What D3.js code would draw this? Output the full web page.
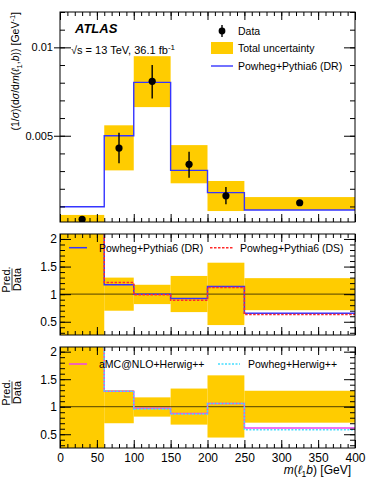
<!DOCTYPE html>
<html>
<head>
<meta charset="utf-8">
<script src="https://cdn.jsdelivr.net/npm/d3@7"></script>
<style>
  body { margin: 0; background: #fff; }
  svg { display: block; font-family: "Liberation Sans", Arial, Helvetica, sans-serif; }
</style>
</head>
<body>
<svg id="chart" width="374" height="484"></svg>
<script>
// bin edges of m(l1,b) in GeV
const binEdges = [0, 60, 100, 150, 200, 250, 400];

// top panel: normalised cross-section [GeV^-1]
const dataValues = [0.00027, 0.0043, 0.00808, 0.00338, 0.0016, 0.00121];
const dataErrHigh = [0.00033, 0.00517, 0.0090, 0.0041, 0.0021, 0.00128];
const dataErrLow = [0.00021, 0.00344, 0.00711, 0.00262, 0.00112, 0.00114];
const totalUncHigh = [0.00052, 0.00559, 0.0095, 0.00447, 0.00244, 0.00153];
const totalUncLow = [0.00002, 0.00304, 0.00662, 0.00231, 0.00074, 0.0008];
const powhegPythiaDR = [0.00098, 0.0050, 0.00802, 0.00304, 0.00178, 0.0008];

// ratio panels: Pred./Data
const ratioUncHigh = [2.6, 1.30, 1.17, 1.33, 1.57, 1.29];
const ratioUncLow = [0.0, 0.70, 0.82, 0.675, 0.44, 0.71];
const ratioDR = [3.6, 1.17, 1.0, 0.92, 1.14, 0.655];
const ratioDS = [3.7, 1.21, 0.99, 0.89, 1.12, 0.63];
const ratioAmcHerwig = [3.5, 1.28, 0.97, 0.875, 1.06, 0.615];
const ratioPowhegHerwig = [3.5, 1.28, 0.96, 0.87, 1.06, 0.58];

const xTicks = [0, 50, 100, 150, 200, 250, 300, 350, 400];
const ratioTicks = [0.5, 1, 1.5, 2];
const topTicks = [0.005, 0.01];

const BAND = '#ffcc00';
const svg = d3.select('#chart');

const left = 60, right = 355;
const x = d3.scaleLinear().domain([0, 400]).range([left, right]);
const yTop = d3.scaleLinear().domain([0.00012, 0.012]).range([222, 12]);
const yR1 = d3.scaleLinear().domain([0.26, 2.09]).range([335, 234]);
const yR2 = d3.scaleLinear().domain([0.25, 2.085]).range([448, 347]);

const bins = binEdges.slice(0, -1).map((lo, i) => ({ lo, hi: binEdges[i + 1], i }));

function clipFor(id, y) {
  svg.append('clipPath').attr('id', id)
    .append('rect')
    .attr('x', left).attr('y', y.range()[1])
    .attr('width', right - left).attr('height', y.range()[0] - y.range()[1]);
  return svg.append('g').attr('clip-path', `url(#${id})`);
}

function drawBand(g, y, hi, lo) {
  g.selectAll('rect.band')
    .data(bins)
    .enter()
    .append('rect')
    .attr('class', 'band')
    .attr('x', d => x(d.lo))
    .attr('width', d => x(d.hi) - x(d.lo))
    .attr('y', d => y(hi[d.i]))
    .attr('height', d => y(lo[d.i]) - y(hi[d.i]))
    .attr('fill', BAND);
}

function stepLine(g, y, values, color, dash, width) {
  const pts = [];
  bins.forEach(d => {
    pts.push([x(d.lo), y(values[d.i])]);
    pts.push([x(d.hi), y(values[d.i])]);
  });
  g.append('path')
    .attr('d', d3.line()(pts))
    .attr('fill', 'none')
    .attr('stroke', color)
    .attr('stroke-width', width || 1.4)
    .attr('stroke-dasharray', dash || null);
}

function frameAxes(y, yMajor, yMinor, opts) {
  const top = y.range()[1], bottom = y.range()[0];
  const minorX = d3.range(0, 401, 10);
  const ax = svg.append('g');

  const addAxis = (axis, tx, ty, labels) => {
    const a = ax.append('g').attr('transform', `translate(${tx},${ty})`).call(axis);
    a.select('.domain').remove();
    a.selectAll('line').attr('stroke', '#000');
    if (!labels) a.selectAll('text').remove();
    return a;
  };

  // x ticks, bottom and top
  addAxis(d3.axisBottom(x).tickValues(xTicks).tickSizeInner(-8).tickSizeOuter(0), 0, bottom, false);
  addAxis(d3.axisBottom(x).tickValues(minorX).tickSizeInner(-4).tickSizeOuter(0), 0, bottom, false);
  addAxis(d3.axisTop(x).tickValues(xTicks).tickSizeInner(-8).tickSizeOuter(0), 0, top, false);
  addAxis(d3.axisTop(x).tickValues(minorX).tickSizeInner(-4).tickSizeOuter(0), 0, top, false);

  // y ticks, left and right
  const yl = addAxis(d3.axisLeft(y).tickValues(yMajor).tickSizeInner(-11).tickSizeOuter(0)
    .tickPadding(opts.yPad).tickFormat(opts.yFormat), left, 0, true);
  yl.selectAll('text').attr('font-size', opts.yFont).attr('font-family', null).attr('fill', '#000');
  if (opts.outStub) {
    addAxis(d3.axisLeft(y).tickValues(yMajor).tickSizeInner(6).tickSizeOuter(0), left, 0, false);
  }
  addAxis(d3.axisLeft(y).tickValues(yMinor).tickSizeInner(-5).tickSizeOuter(0), left, 0, false);
  addAxis(d3.axisRight(y).tickValues(yMajor).tickSizeInner(-11).tickSizeOuter(0), right, 0, false);
  addAxis(d3.axisRight(y).tickValues(yMinor).tickSizeInner(-5).tickSizeOuter(0), right, 0, false);

  if (opts.xLabels) {
    const xl = addAxis(d3.axisBottom(x).tickValues(xTicks).tickSize(0).tickPadding(5), 0, bottom, true);
    xl.selectAll('text').attr('font-size', 12).attr('font-family', null).attr('fill', '#000');
  }

  ax.append('rect')
    .attr('x', left).attr('y', top)
    .attr('width', right - left).attr('height', bottom - top)
    .attr('fill', 'none').attr('stroke', '#000').attr('stroke-width', 1);
}

// ---------- top panel ----------
const gTop = clipFor('clipTop', yTop);
drawBand(gTop, yTop, totalUncHigh, totalUncLow);
stepLine(gTop, yTop, powhegPythiaDR, '#3535ff', null, 1.4);

const pts = gTop.selectAll('g.pt')
  .data(bins)
  .enter()
  .append('g')
  .attr('class', 'pt');
pts.append('line')
  .attr('x1', d => x((d.lo + d.hi) / 2))
  .attr('x2', d => x((d.lo + d.hi) / 2))
  .attr('y1', d => yTop(dataErrHigh[d.i]))
  .attr('y2', d => yTop(dataErrLow[d.i]))
  .attr('stroke', '#000').attr('stroke-width', 1.4);
pts.append('circle')
  .attr('cx', d => x((d.lo + d.hi) / 2))
  .attr('cy', d => yTop(dataValues[d.i]))
  .attr('r', 3.6)
  .attr('fill', '#000');

frameAxes(yTop, topTicks, d3.range(0.001, 0.0121, 0.001), {
  yPad: 7, yFont: 11, outStub: true,
  yFormat: d => (d === 0.01 ? '0.01' : '0.005')
});

// top labels
svg.append('text')
  .attr('x', 75).attr('y', 33)
  .attr('font-size', 13).attr('font-weight', 'bold').attr('font-style', 'italic')
  .text('ATLAS');
const energy = svg.append('text').attr('x', 71).attr('y', 54).attr('font-size', 11);
energy.append('tspan').text('\u221As = 13 TeV, 36.1 fb');
energy.append('tspan').attr('dy', -4).attr('font-size', 8).text('-1');

// legend
const lg = svg.append('g').attr('font-size', 10.5);
lg.append('line').attr('x1', 222).attr('x2', 222).attr('y1', 25).attr('y2', 37)
  .attr('stroke', '#000').attr('stroke-width', 1.4);
lg.append('circle').attr('cx', 222).attr('cy', 31).attr('r', 3.4).attr('fill', '#000');
lg.append('text').attr('x', 238).attr('y', 35).text('Data');
lg.append('rect').attr('x', 211).attr('y', 42).attr('width', 22).attr('height', 12).attr('fill', BAND);
lg.append('text').attr('x', 238).attr('y', 52).text('Total uncertainty');
lg.append('line').attr('x1', 211).attr('x2', 233).attr('y1', 66).attr('y2', 66)
  .attr('stroke', '#3535ff').attr('stroke-width', 1.4);
lg.append('text').attr('x', 238).attr('y', 70).text('Powheg+Pythia6 (DR)');

// y axis title
const yt = svg.append('text')
  .attr('transform', 'translate(19,12) rotate(-90)')
  .attr('text-anchor', 'end')
  .attr('font-size', 10.5);
yt.append('tspan').text('(1/');
yt.append('tspan').attr('font-style', 'italic').text('\u03C3');
yt.append('tspan').text(')(d');
yt.append('tspan').attr('font-style', 'italic').text('\u03C3');
yt.append('tspan').text('/d');
yt.append('tspan').attr('font-style', 'italic').text('m');
yt.append('tspan').text('(');
yt.append('tspan').attr('font-style', 'italic').text('\u2113');
yt.append('tspan').attr('dy', 3).attr('font-size', 7.5).text('1');
yt.append('tspan').attr('dy', -3).text(',');
yt.append('tspan').attr('font-style', 'italic').text('b');
yt.append('tspan').text(')) [GeV');
yt.append('tspan').attr('dy', -4).attr('font-size', 7.5).text('-1');
yt.append('tspan').attr('dy', 4).text(']');

// ---------- ratio panels ----------
function ratioPanel(id, y, series, legendY, legendItems) {
  const g = clipFor(id, y);
  drawBand(g, y, ratioUncHigh, ratioUncLow);
  g.append('line')
    .attr('x1', left).attr('x2', right)
    .attr('y1', y(1)).attr('y2', y(1))
    .attr('stroke', '#000').attr('stroke-opacity', 0.55).attr('stroke-width', 1.3);
  series.forEach(s => stepLine(g, y, s.values, s.color, s.dash, 1.5));

  frameAxes(y, ratioTicks, d3.range(0.3, 2.05, 0.1), {
    yPad: 3, yFont: 12, outStub: false, xLabels: id === 'clipR2',
    yFormat: d => String(d)
  });

  const lgR = svg.append('g').attr('font-size', 10.5);
  legendItems.forEach(it => {
    lgR.append('line')
      .attr('x1', it.x0).attr('x2', it.x1).attr('y1', legendY).attr('y2', legendY)
      .attr('stroke', it.color).attr('stroke-width', 1.5)
      .attr('stroke-dasharray', it.dash || null);
    lgR.append('text').attr('x', it.tx).attr('y', legendY + 4).text(it.label);
  });

  // Pred./Data label
  const cy = (y.range()[0] + y.range()[1]) / 2 - 5;
  const lab = svg.append('g').attr('transform', `translate(12,${cy}) rotate(-90)`).attr('font-size', 11);
  lab.append('text').attr('text-anchor', 'middle').attr('y', -2).text('Pred.');
  lab.append('line').attr('x1', -11).attr('x2', 11).attr('y1', 0).attr('y2', 0)
    .attr('stroke', '#000').attr('stroke-width', 0.8);
  lab.append('text').attr('text-anchor', 'middle').attr('y', 9).text('Data');
}

ratioPanel('clipR1', yR1, [
  { values: ratioDR, color: '#3535ff' },
  { values: ratioDS, color: '#ff2a2a', dash: '2.5,1.5' }
], 247.7, [
  { x0: 69, x1: 87, tx: 99, color: '#3535ff', label: 'Powheg+Pythia6 (DR)' },
  { x0: 210, x1: 233, tx: 240, color: '#ff2a2a', dash: '2.5,1.5', label: 'Powheg+Pythia6 (DS)' }
]);

ratioPanel('clipR2', yR2, [
  { values: ratioAmcHerwig, color: '#ee44ee' },
  { values: ratioPowhegHerwig, color: '#44ddff', dash: '2,1.5' }
], 364, [
  { x0: 69, x1: 87, tx: 99, color: '#ee44ee', label: 'aMC@NLO+Herwig++' },
  { x0: 218, x1: 240, tx: 248, color: '#44ddff', dash: '2,1.5', label: 'Powheg+Herwig++' }
]);

// x axis title
const xt = svg.append('text')
  .attr('x', 351).attr('y', 474)
  .attr('text-anchor', 'end')
  .attr('font-size', 12);
xt.append('tspan').attr('font-style', 'italic').text('m');
xt.append('tspan').text('(');
xt.append('tspan').attr('font-style', 'italic').text('\u2113');
xt.append('tspan').attr('dy', 3).attr('font-size', 8.5).text('1');
xt.append('tspan').attr('dy', -3).attr('font-style', 'italic').text('b');
xt.append('tspan').text(') [GeV]');
</script>
</body>
</html>
